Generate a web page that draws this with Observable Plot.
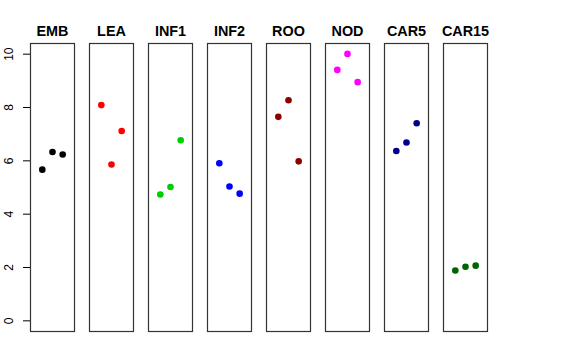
<!DOCTYPE html>
<html>
<head>
<meta charset="utf-8">
<script src="https://cdn.jsdelivr.net/npm/d3@7"></script>
<script src="https://cdn.jsdelivr.net/npm/@observablehq/plot@0.6"></script>
<style>
  body { margin: 0; background: white; }
</style>
</head>
<body>
<div id="chart"></div>
<script>
const panels = ["EMB", "LEA", "INF1", "INF2", "ROO", "NOD", "CAR5", "CAR15"];
const colors = ["#000000", "#FF0000", "#00CD00", "#0000FF", "#8B0000", "#FF00FF", "#00008B", "#006400"];
const embValues  = [5.67, 6.33, 6.24];
const leaValues  = [8.09, 5.86, 7.12];
const inf1Values = [4.74, 5.02, 6.77];
const inf2Values = [5.91, 5.04, 4.77];
const rooValues  = [7.65, 8.27, 5.98];
const nodValues  = [9.41, 10.01, 8.95];
const car5Values = [6.37, 6.69, 7.41];
const car15Values = [1.89, 2.03, 2.07];
const yTicks = [0, 2, 4, 6, 8, 10];

const allValues = [embValues, leaValues, inf1Values, inf2Values, rooValues, nodValues, car5Values, car15Values];
const data = panels.flatMap((p, i) => allValues[i].map((v, j) => ({panel: p, idx: j + 1, value: v, color: colors[i]})));

const chart = Plot.plot({
  width: 576,
  height: 360,
  marginLeft: 29,
  marginRight: 88,
  marginTop: 43,
  marginBottom: 29,
  style: {fontFamily: "'Liberation Sans', Arial, Helvetica, sans-serif", background: "white", color: "black"},
  fx: {domain: panels, paddingInner: 0.247, paddingOuter: 0, axis: null, label: null},
  x: {domain: [-0.16, 4.16], axis: null},
  y: {domain: [-0.4, 10.4], axis: null},
  color: {type: "identity"},
  marks: [
    Plot.frame({stroke: "#333333", strokeWidth: 1.2}),
    Plot.axisY({ticks: yTicks, facetAnchor: "left", anchor: "left", tickSize: 7, tickFormat: () => "", label: null, stroke: "black"}),
    Plot.text(yTicks, {fx: () => panels[0], y: d => d, text: d => String(d), frameAnchor: "left", dx: -21, rotate: -90, textAnchor: "middle", fontSize: 12, fill: "black"}),
    Plot.dot(data, {fx: "panel", x: "idx", y: "value", fill: "color", r: 3.3}),
    Plot.text(panels, {fx: d => d, text: d => d, frameAnchor: "top", lineAnchor: "bottom", dy: -8, fontWeight: "bold", fontSize: 14.4})
  ]
});
document.getElementById("chart").appendChild(chart);
</script>
</body>
</html>
